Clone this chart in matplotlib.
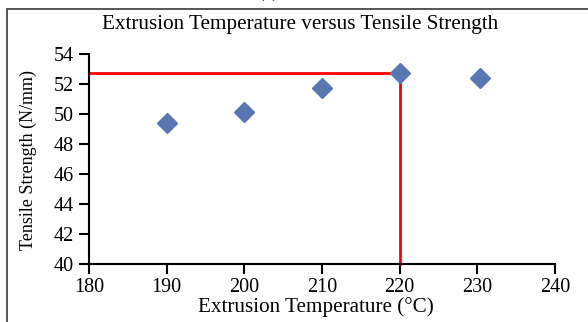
import matplotlib
matplotlib.use("Agg")
import matplotlib.pyplot as plt
from matplotlib.lines import Line2D

plt.rcParams.update({
    "font.family": ["Liberation Serif", "DejaVu Serif"],
    "font.size": 14,
})

# data
temps = [190, 200, 210, 220, 230.4]
strength = [49.4, 50.1, 51.7, 52.7, 52.4]
opt_temp = 220
opt_strength = 52.7
x_ticks = [180, 190, 200, 210, 220, 230, 240]
y_ticks = [40, 42, 44, 46, 48, 50, 52, 54]

fig = plt.figure(figsize=(5.88, 3.22), dpi=100)
ax = fig.add_axes([89 / 588, 1 - 264 / 322, (555 - 89) / 588, (264 - 54) / 322])

# guide lines to the optimum point
ax.plot([180, opt_temp], [opt_strength, opt_strength], color="#FF0000", lw=2,
        zorder=2, clip_on=False)
ax.plot([opt_temp, opt_temp], [40, opt_strength], color="#FF0000", lw=2,
        zorder=2, clip_on=False)

ax.plot(temps, strength, linestyle="none", marker="D", ms=10,
        color="#5876B2", markeredgecolor="#5876B2", zorder=3, clip_on=False)

ax.set_xlim(180, 240)
ax.set_ylim(40, 54)
ax.set_xticks(x_ticks)
ax.set_yticks(y_ticks)
for s in ("top", "right"):
    ax.spines[s].set_visible(False)
for s in ("left", "bottom"):
    ax.spines[s].set_linewidth(1.5)
ax.tick_params(direction="out", length=7, width=1.5, labelsize=14.5, pad=3)
ax.tick_params(axis="y", pad=4)

fig.text(0.51, 0.925, "Extrusion Temperature versus Tensile Strength",
         ha="center", va="center", fontsize=15.2)
fig.text(316 / 588, 0.047, "Extrusion Temperature (°C)", ha="center",
         va="center", fontsize=15.2)
fig.text(28 / 588, 0.503, "Tensile Strength (N/mm)", ha="center", va="center",
         rotation=90, fontsize=13)
fig.text(268 / 588, 1 + 3 / 322, "(a)", ha="center", va="baseline", fontsize=14)

# outer frame (left and top edges)
fig.add_artist(Line2D([7 / 588, 7 / 588], [0, 1 - 9 / 322], color="#555555",
                      lw=1.4, transform=fig.transFigure))
fig.add_artist(Line2D([7 / 588, 1], [1 - 9 / 322, 1 - 9 / 322], color="#555555",
                      lw=1.4, transform=fig.transFigure))

fig.savefig("out.png", dpi=100)
